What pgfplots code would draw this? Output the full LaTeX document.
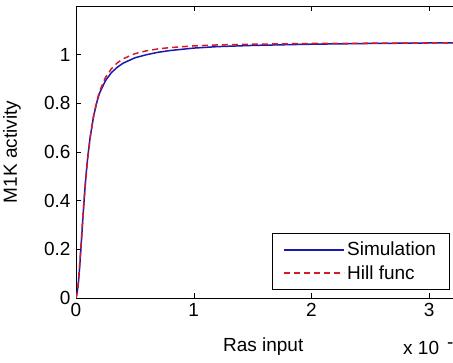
\documentclass[border=0pt]{standalone}
\usepackage{pgfplots}
\pgfplotsset{compat=1.18}
\usepackage{fontspec}
\setmainfont{Liberation Sans}
\definecolor{simblue}{rgb}{0.1,0.1,0.7}
\definecolor{hillred}{rgb}{0.85,0.1,0.15}
\begin{document}
\begin{tikzpicture}[x=1pt,y=1pt]
\useasboundingbox (0,0) rectangle (453,363);
\clip (0,0) rectangle (453,363);
\fill[white] (0,0) rectangle (453,363);
\begin{axis}[
  at={(76pt,65pt)}, anchor=south west,
  scale only axis, width=471pt, height=292pt,
  xmin=0, xmax=4, ymin=0, ymax=1.2,
  xtick={0,1,2,3,4}, ytick={0,0.2,0.4,0.6,0.8,1},
  yticklabels={0,0.2,0.4,0.6,0.8,1},
  xticklabels={0,1,2,3,{}},
  tick align=inside, major tick length=5pt,
  tick style={black, line width=0.5pt},
  axis line style={line width=0.6pt},
  ytick pos=left,
  tick label style={font=\fontsize{19}{21}\selectfont},
  xlabel={Ras input}, ylabel={M1K activity},
  label style={font=\fontsize{19}{21}\selectfont},
  xlabel style={at={(axis cs:1.59,0)}, anchor=base, yshift=-54pt},
  ylabel style={at={(axis description cs:-0.136,0.5)}, anchor=center},
  yticklabel style={xshift=-2pt},
  xticklabel style={yshift=-2pt},
  legend style={at={(axis cs:3.169,0.033)}, anchor=south east,
    font=\fontsize{19}{21}\selectfont, draw=black, line width=0.5pt,
    inner xsep=11pt, inner ysep=7pt, row sep=4pt, cells={anchor=west}},
  legend image code/.code={\draw[#1] (0pt,0pt) -- (60pt,0pt);},
  clip=true,
]
\addplot[simblue, line width=1.5pt] coordinates {
(0,0) (0.01,0.025) (0.02,0.06) (0.03,0.12) (0.04,0.19) (0.05,0.265) (0.06,0.34) (0.07,0.41) (0.08,0.475)
(0.09,0.53) (0.10,0.58) (0.12,0.66) (0.15,0.748) (0.18,0.81) (0.20,0.842) (0.25,0.893)
(0.30,0.926) (0.35,0.948) (0.40,0.965) (0.50,0.987) (0.60,1.0) (0.70,1.01) (0.80,1.017)
(1.0,1.027) (1.2,1.033) (1.5,1.038) (2.0,1.043) (2.5,1.046) (3.0,1.048) (3.5,1.049) (4.0,1.05)
};
\addlegendentry{Simulation}
\addplot[hillred, line width=1.5pt, dash pattern=on 6pt off 4pt] coordinates {
(0,0) (0.01,0.018) (0.02,0.066) (0.03,0.13) (0.04,0.198) (0.05,0.27) (0.06,0.341) (0.07,0.41) (0.08,0.47)
(0.09,0.525) (0.10,0.575) (0.12,0.658) (0.15,0.751) (0.18,0.815) (0.20,0.849) (0.25,0.906)
(0.30,0.942) (0.35,0.966) (0.40,0.983) (0.50,1.004) (0.60,1.016) (0.70,1.024) (0.80,1.029)
(1.0,1.036) (1.2,1.04) (1.5,1.043) (2.0,1.046) (2.5,1.047) (3.0,1.048) (3.5,1.049) (4.0,1.049)
};
\addlegendentry{Hill func}
\end{axis}
\node[anchor=base west, font=\fontsize{19}{21}\selectfont, inner sep=0pt] at (403,8) {x 10\hspace{8pt}$^{\textrm{-5}}$};
\end{tikzpicture}
\end{document}
